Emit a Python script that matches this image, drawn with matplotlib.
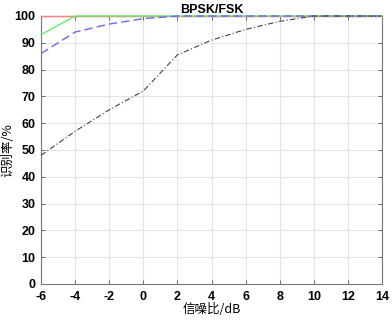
import matplotlib
matplotlib.use('Agg')
import matplotlib.pyplot as plt

plt.rcParams['font.family'] = ['Liberation Sans', 'DejaVu Sans']
plt.rcParams['axes.unicode_minus'] = False

snr = [-6, -4, -2, 0, 2, 4, 6, 8, 10, 12, 14]
acc_red = [100, 100, 100, 100, 100, 100, 100, 100, 100, 100, 100]
acc_green = [93, 100, 100, 100, 100, 100, 100, 100, 100, 100, 100]
acc_blue = [86, 94, 97, 99, 100, 100, 100, 100, 100, 100, 100]
acc_black = [48, 57, 65, 72, 85.5, 91, 95, 98, 100, 100, 100]

xticks = [-6, -4, -2, 0, 2, 4, 6, 8, 10, 12, 14]
yticks = [0, 10, 20, 30, 40, 50, 60, 70, 80, 90, 100]

fig = plt.figure(figsize=(3.92, 3.21), dpi=100)
ax = fig.add_axes([41/392, 1 - 284/321, 341/392, 268/321])

ax.plot(snr, acc_red, color='#ff7f7f', linewidth=1, clip_on=False, zorder=3)
ax.plot(snr, acc_green, color='#66ee66', linewidth=1, clip_on=False, zorder=3)
ax.plot(snr, acc_blue, color='#6666ff', linewidth=1, linestyle=(0, (6, 3)),
        clip_on=False, zorder=3)
ax.plot(snr, acc_black, color='#444444', linewidth=0.8, linestyle=(0, (5, 2, 1, 2)),
        clip_on=False, zorder=3)

ax.set_xlim(-6, 14)
ax.set_ylim(0, 100)
ax.set_xticks(xticks)
ax.set_yticks(yticks)
ax.grid(True, color='#e4e4e4', linewidth=0.8)
ax.set_axisbelow(True)
ax.tick_params(direction='in', length=3, width=0.6, top=True, right=True,
               labelsize=9, color='#555555')
ax.tick_params(axis='x', pad=5)
ax.tick_params(axis='y', pad=4)
for lab in ax.get_xticklabels() + ax.get_yticklabels():
    lab.set_fontweight('bold')
for s in ax.spines.values():
    s.set_color('#777777')
    s.set_linewidth(0.8)

ax.set_title('BPSK/FSK', fontsize=9, fontweight='bold', pad=2)
ax.set_xlabel('信噪比/dB', fontsize=9, family=['Noto Sans CJK SC', 'DejaVu Sans'], labelpad=0)
ax.set_ylabel('识别率/%', fontsize=9, family=['Noto Sans CJK SC', 'DejaVu Sans'], labelpad=0)

fig.savefig('out.png', dpi=100)
